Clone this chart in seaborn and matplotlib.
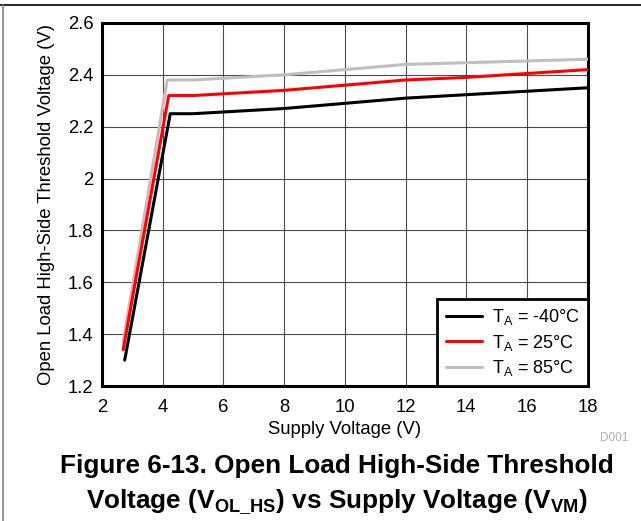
import matplotlib.pyplot as plt
import matplotlib.lines as mlines
import pandas as pd
import seaborn as sns

# Data
vm_cold = [2.75, 4.25, 5, 8, 12, 18]
vol_cold = [1.30, 2.25, 2.25, 2.27, 2.31, 2.35]
vm_room = [2.7, 4.2, 5, 8, 12, 14, 18]
vol_room = [1.34, 2.32, 2.32, 2.34, 2.38, 2.39, 2.42]
vm_hot = [2.7, 4.15, 5, 8, 12, 18]
vol_hot = [1.37, 2.38, 2.38, 2.40, 2.44, 2.46]

labels = ["T$_\\mathregular{A}$ = -40°C", "T$_\\mathregular{A}$ = 25°C", "T$_\\mathregular{A}$ = 85°C"]
colors = ["#000000", "#ff0000", "#bfbfbf"]

df = pd.concat([
    pd.DataFrame({"vm": vm_cold, "vol": vol_cold, "temp": labels[0]}),
    pd.DataFrame({"vm": vm_room, "vol": vol_room, "temp": labels[1]}),
    pd.DataFrame({"vm": vm_hot, "vol": vol_hot, "temp": labels[2]}),
], ignore_index=True)

sns.set_theme(style="white")
plt.rcParams["font.family"] = ["Liberation Sans", "DejaVu Sans"]
plt.rcParams["mathtext.fontset"] = "custom"
plt.rcParams["mathtext.rm"] = "Liberation Sans"
plt.rcParams["mathtext.bf"] = "Liberation Sans:bold"
plt.rcParams["text.color"] = "black"
plt.rcParams["axes.labelcolor"] = "black"

fig = plt.figure(figsize=(6.41, 5.21), dpi=100)
ax = fig.add_axes([0.159, 0.259, 0.758, 0.697])

# draw hot first so red and black sit on top
for lab, col in zip(labels[::-1], colors[::-1]):
    sub = df[df["temp"] == lab]
    sns.lineplot(data=sub, x="vm", y="vol", color=col, linewidth=2.2, ax=ax,
                 sort=False, estimator=None, zorder=3)

ax.set_xlim(2, 18)
ax.set_ylim(1.2, 2.6)
ax.set_xticks(range(2, 19, 2))
ax.set_yticks([1.2, 1.4, 1.6, 1.8, 2.0, 2.2, 2.4, 2.6])
ax.set_yticklabels(["1.2", "1.4", "1.6", "1.8", "2", "2.2", "2.4", "2.6"])
ax.grid(True, color="#000000", linewidth=0.8, alpha=0.7)
for s in ax.spines.values():
    s.set_visible(True)
    s.set_color("black")
    s.set_linewidth(2.2)
ax.tick_params(axis="x", labelsize=13.3, length=0, pad=9, colors="black")
ax.tick_params(axis="y", labelsize=13.3, length=0, pad=6, colors="black")
ax.set_xlabel("Supply Voltage (V)", fontsize=13.3, labelpad=4)
ax.set_ylabel("Open Load High-Side Threshold Voltage (V)", fontsize=13.3, labelpad=9)

handles = [mlines.Line2D([], [], color=c, linewidth=2.2) for c in colors]
leg = ax.legend(handles, labels, loc="lower right", fontsize=13, frameon=True,
                fancybox=False, borderaxespad=0, handlelength=2.0,
                handletextpad=0.55, borderpad=0.45, labelspacing=0.3)
leg.get_frame().set_edgecolor("black")
leg.get_frame().set_linewidth(2.0)
leg.get_frame().set_alpha(1)

fig.text(0.98, 0.159, "D001", fontsize=8.5, color="#b0b0b0", ha="right", va="center")
fig.text(0.526, 0.1056, "Figure 6-13. Open Load High-Side Threshold", fontsize=18.8,
         fontweight="bold", ha="center", va="center")
fig.text(0.526, 0.035,
         "Voltage (V$_\\mathbf{OL\\_HS}$) vs Supply Voltage (V$_\\mathbf{VM}$)",
         fontsize=18.8, fontweight="bold", ha="center", va="center")

# page frame lines
fig.add_artist(mlines.Line2D([0, 1], [0.99, 0.99], color="black", linewidth=1.2,
                             transform=fig.transFigure))
fig.add_artist(mlines.Line2D([0.004, 0.004], [0, 0.99], color="#808080", linewidth=1.2,
                             transform=fig.transFigure))

fig.savefig("out.png", dpi=100)
